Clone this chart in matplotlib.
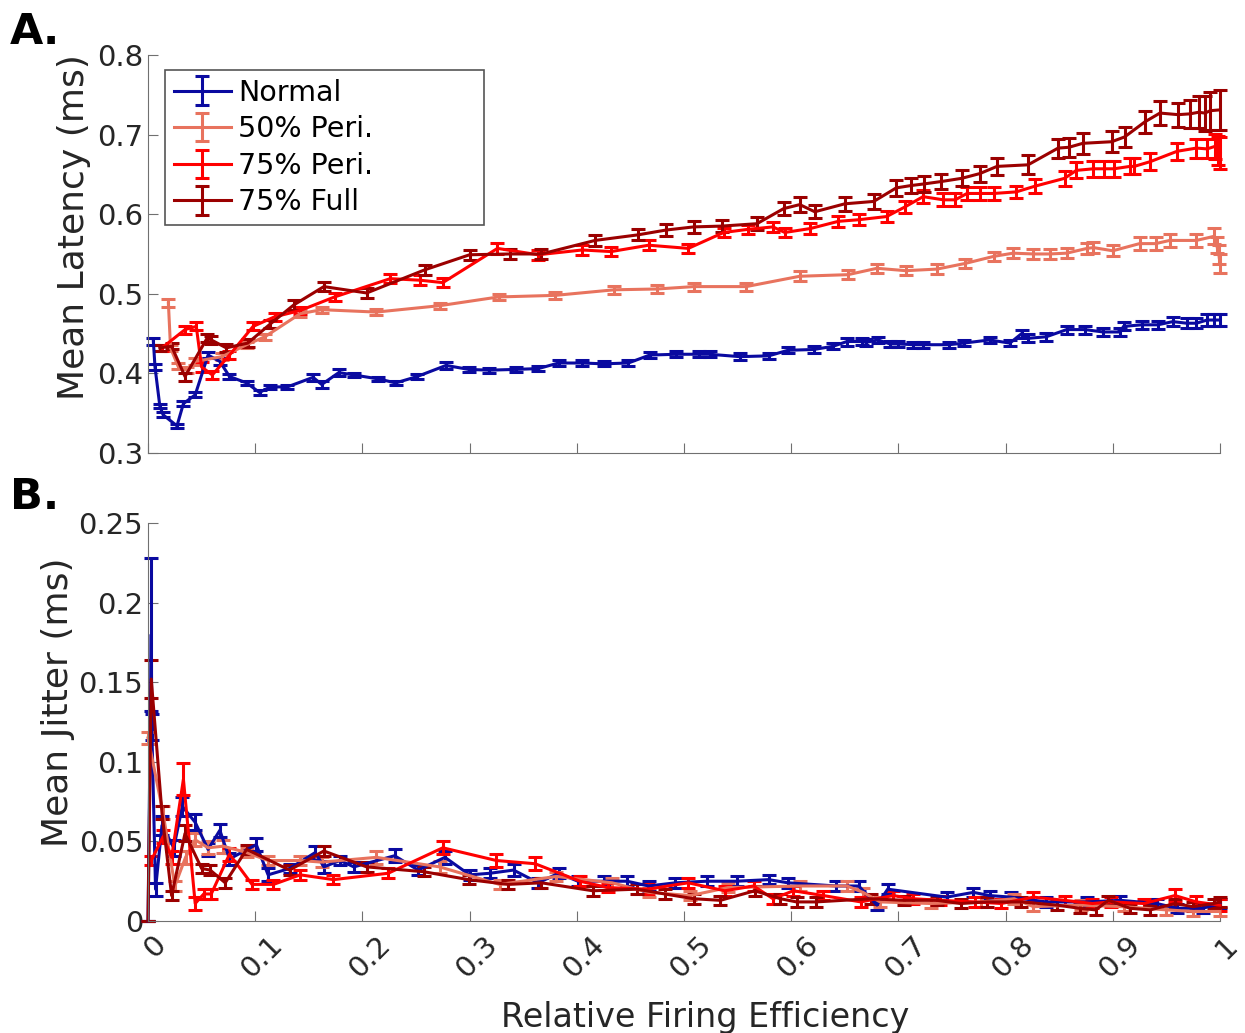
import matplotlib
matplotlib.use('Agg')
import matplotlib.pyplot as plt
import matplotlib.transforms as mtransforms
import numpy as np

plt.rcParams.update({
    'font.family': 'DejaVu Sans',
    'font.size': 21,
    'xtick.direction': 'in',
    'ytick.direction': 'in',
    'xtick.major.size': 7,
    'ytick.major.size': 7,
    'xtick.color': '#707070',
    'ytick.color': '#707070',
    'xtick.labelcolor': '#262626',
    'ytick.labelcolor': '#262626',
    'xtick.labelsize': 21,
    'ytick.labelsize': 21,
    'axes.edgecolor': '#707070',
    'axes.labelcolor': '#262626',
})

labels = ['Normal', '50% Peri.', '75% Peri.', '75% Full']
colors = ['#0A0AA0', '#E8735E', '#FF0000', '#9B0000']

# ---- Panel A: mean latency (ms) ----
lat_normal_x = [0.005, 0.0065, 0.011, 0.014, 0.027, 0.033, 0.044, 0.056, 0.067, 0.076,
                0.092, 0.104, 0.114, 0.130, 0.154, 0.162, 0.178, 0.192, 0.215, 0.231,
                0.251, 0.278, 0.299, 0.318, 0.343, 0.364, 0.383, 0.405, 0.425, 0.448,
                0.468, 0.493, 0.514, 0.524, 0.552, 0.579, 0.597, 0.621, 0.639, 0.652,
                0.666, 0.670, 0.681, 0.692, 0.700, 0.714, 0.723, 0.747, 0.761, 0.785,
                0.804, 0.815, 0.821, 0.838, 0.857, 0.874, 0.891, 0.907, 0.910, 0.927,
                0.942, 0.956, 0.969, 0.978, 0.988, 0.994, 1.0]
lat_normal_y = [0.440, 0.408, 0.359, 0.348, 0.334, 0.362, 0.373, 0.423, 0.415, 0.396,
                0.388, 0.376, 0.383, 0.383, 0.395, 0.386, 0.401, 0.398, 0.393, 0.388,
                0.396, 0.410, 0.405, 0.404, 0.405, 0.406, 0.413, 0.413, 0.412, 0.413,
                0.423, 0.424, 0.424, 0.424, 0.421, 0.422, 0.429, 0.430, 0.434, 0.440,
                0.440, 0.439, 0.442, 0.437, 0.437, 0.436, 0.436, 0.436, 0.438, 0.442,
                0.438, 0.450, 0.444, 0.446, 0.455, 0.455, 0.452, 0.452, 0.459, 0.461,
                0.461, 0.465, 0.463, 0.463, 0.467, 0.467, 0.467]
lat_normal_err = [0.004, 0.004, 0.003, 0.003, 0.003, 0.003, 0.003, 0.004, 0.004, 0.003,
                  0.003, 0.003, 0.003, 0.003, 0.004, 0.004, 0.004, 0.003, 0.003, 0.003,
                  0.003, 0.004, 0.003, 0.003, 0.003, 0.003, 0.004, 0.004, 0.003, 0.004,
                  0.004, 0.004, 0.004, 0.004, 0.004, 0.004, 0.004, 0.004, 0.004, 0.005,
                  0.004, 0.004, 0.004, 0.004, 0.004, 0.004, 0.004, 0.004, 0.004, 0.004,
                  0.004, 0.005, 0.005, 0.005, 0.005, 0.005, 0.005, 0.005, 0.005, 0.005,
                  0.005, 0.006, 0.006, 0.006, 0.007, 0.007, 0.007]

lat_p50_x = [0.019, 0.021, 0.028, 0.036, 0.044, 0.069, 0.092, 0.109, 0.142, 0.162,
             0.213, 0.272, 0.327, 0.380, 0.435, 0.475, 0.509, 0.558, 0.608, 0.653,
             0.680, 0.707, 0.736, 0.762, 0.789, 0.807, 0.826, 0.841, 0.857, 0.876,
             0.882, 0.900, 0.925, 0.940, 0.953, 0.978, 0.994, 0.997, 0.999, 1.0]
lat_p50_y = [0.488, 0.432, 0.409, 0.404, 0.415, 0.421, 0.436, 0.446, 0.475, 0.480,
             0.477, 0.485, 0.496, 0.498, 0.505, 0.506, 0.509, 0.509, 0.522, 0.524,
             0.532, 0.529, 0.531, 0.538, 0.547, 0.551, 0.550, 0.550, 0.551, 0.557,
             0.558, 0.554, 0.563, 0.563, 0.567, 0.567, 0.572, 0.561, 0.549, 0.538]
lat_p50_err = [0.005, 0.004, 0.004, 0.004, 0.004, 0.004, 0.004, 0.004, 0.004, 0.004,
               0.004, 0.004, 0.004, 0.004, 0.005, 0.005, 0.005, 0.005, 0.006, 0.006,
               0.006, 0.006, 0.006, 0.006, 0.006, 0.006, 0.006, 0.006, 0.006, 0.007,
               0.007, 0.007, 0.008, 0.008, 0.008, 0.008, 0.010, 0.010, 0.012, 0.012]

lat_p75_x = [0.013, 0.0345, 0.045, 0.050, 0.060, 0.076, 0.098, 0.118, 0.142, 0.174,
             0.226, 0.254, 0.275, 0.326, 0.364, 0.405, 0.432, 0.467, 0.504, 0.537,
             0.560, 0.583, 0.594, 0.618, 0.644, 0.663, 0.689, 0.706, 0.723, 0.742,
             0.753, 0.764, 0.776, 0.789, 0.810, 0.827, 0.855, 0.866, 0.882, 0.892,
             0.901, 0.916, 0.920, 0.935, 0.960, 0.978, 0.988, 0.995, 0.998, 1.0]
lat_p75_y = [0.432, 0.455, 0.459, 0.408, 0.398, 0.423, 0.459, 0.471, 0.479, 0.496,
             0.519, 0.517, 0.514, 0.557, 0.549, 0.555, 0.553, 0.561, 0.557, 0.577,
             0.581, 0.584, 0.577, 0.582, 0.591, 0.593, 0.597, 0.609, 0.622, 0.618,
             0.618, 0.626, 0.626, 0.626, 0.628, 0.635, 0.645, 0.655, 0.657, 0.657,
             0.657, 0.660, 0.660, 0.666, 0.679, 0.683, 0.682, 0.685, 0.680, 0.677]
lat_p75_err = [0.004, 0.005, 0.005, 0.006, 0.005, 0.005, 0.005, 0.005, 0.005, 0.005,
               0.006, 0.006, 0.006, 0.007, 0.006, 0.006, 0.006, 0.006, 0.006, 0.006,
               0.006, 0.006, 0.006, 0.007, 0.007, 0.007, 0.007, 0.008, 0.008, 0.008,
               0.008, 0.008, 0.008, 0.008, 0.008, 0.009, 0.009, 0.010, 0.010, 0.010,
               0.010, 0.010, 0.010, 0.011, 0.011, 0.012, 0.012, 0.016, 0.018, 0.020]

lat_full_x = [0.011, 0.022, 0.0345, 0.055, 0.059, 0.073, 0.093, 0.114, 0.136, 0.164,
              0.204, 0.258, 0.300, 0.338, 0.367, 0.417, 0.457, 0.483, 0.509, 0.535,
              0.568, 0.593, 0.608, 0.622, 0.650, 0.677, 0.698, 0.712, 0.724, 0.740,
              0.759, 0.776, 0.792, 0.821, 0.849, 0.859, 0.872, 0.899, 0.911, 0.930,
              0.944, 0.961, 0.972, 0.980, 0.986, 0.991, 1.0]
lat_full_y = [0.432, 0.434, 0.396, 0.444, 0.442, 0.432, 0.438, 0.462, 0.486, 0.509,
              0.501, 0.530, 0.549, 0.550, 0.550, 0.567, 0.574, 0.580, 0.584, 0.585,
              0.588, 0.607, 0.612, 0.603, 0.613, 0.616, 0.633, 0.636, 0.638, 0.641,
              0.645, 0.651, 0.660, 0.662, 0.683, 0.684, 0.689, 0.691, 0.697, 0.716,
              0.727, 0.725, 0.726, 0.728, 0.727, 0.730, 0.731]
lat_full_err = [0.004, 0.004, 0.005, 0.005, 0.005, 0.005, 0.005, 0.005, 0.006, 0.006,
                0.006, 0.006, 0.006, 0.006, 0.006, 0.007, 0.007, 0.008, 0.008, 0.008,
                0.008, 0.008, 0.009, 0.008, 0.009, 0.009, 0.010, 0.010, 0.010, 0.010,
                0.010, 0.010, 0.011, 0.012, 0.012, 0.012, 0.013, 0.013, 0.013, 0.014,
                0.015, 0.015, 0.018, 0.020, 0.022, 0.024, 0.025]

# ---- Panel B: mean jitter (ms) ----
jit_normal_x = [0.0, 0.003, 0.0035, 0.007, 0.013, 0.024, 0.032, 0.044, 0.056, 0.067,
                0.076, 0.101, 0.112, 0.132, 0.156, 0.164, 0.179, 0.192, 0.230, 0.252,
                0.277, 0.300, 0.319, 0.341, 0.364, 0.383, 0.401, 0.425, 0.447, 0.467,
                0.492, 0.521, 0.549, 0.579, 0.597, 0.642, 0.663, 0.680, 0.690, 0.745,
                0.770, 0.785, 0.805, 0.838, 0.876, 0.907, 0.941, 0.960, 0.984, 1.0]
jit_normal_y = [0.0, 0.180, 0.122, 0.020, 0.060, 0.046, 0.072, 0.062, 0.045, 0.057,
                0.039, 0.048, 0.029, 0.033, 0.043, 0.034, 0.038, 0.034, 0.041, 0.032,
                0.040, 0.029, 0.030, 0.032, 0.024, 0.030, 0.025, 0.025, 0.025, 0.022,
                0.024, 0.025, 0.025, 0.026, 0.024, 0.022, 0.022, 0.010, 0.020, 0.015,
                0.018, 0.016, 0.015, 0.012, 0.012, 0.013, 0.011, 0.008, 0.008, 0.011]
jit_normal_err = [0.0, 0.048, 0.008, 0.004, 0.006, 0.005, 0.006, 0.005, 0.004, 0.004,
                  0.004, 0.004, 0.004, 0.003, 0.004, 0.004, 0.003, 0.003, 0.004, 0.003,
                  0.004, 0.003, 0.003, 0.004, 0.003, 0.003, 0.003, 0.003, 0.003, 0.003,
                  0.003, 0.003, 0.003, 0.003, 0.003, 0.003, 0.003, 0.003, 0.003, 0.003,
                  0.003, 0.003, 0.003, 0.003, 0.003, 0.003, 0.003, 0.003, 0.003, 0.003]

jit_p50_x = [0.0, 0.014, 0.025, 0.035, 0.044, 0.056, 0.070, 0.092, 0.112, 0.142,
             0.162, 0.213, 0.272, 0.328, 0.381, 0.433, 0.467, 0.506, 0.541, 0.608,
             0.652, 0.667, 0.683, 0.730, 0.777, 0.808, 0.826, 0.870, 0.910, 0.950,
             0.975, 1.0]
jit_p50_y = [0.115, 0.068, 0.022, 0.040, 0.051, 0.046, 0.047, 0.043, 0.038, 0.038,
             0.037, 0.040, 0.034, 0.023, 0.028, 0.024, 0.018, 0.016, 0.021, 0.022,
             0.022, 0.018, 0.012, 0.011, 0.012, 0.014, 0.009, 0.010, 0.009, 0.007,
             0.006, 0.006]
jit_p50_err = [0.004, 0.004, 0.003, 0.004, 0.004, 0.004, 0.004, 0.003, 0.003, 0.003,
               0.003, 0.004, 0.004, 0.003, 0.003, 0.003, 0.003, 0.003, 0.003, 0.003,
               0.003, 0.003, 0.003, 0.003, 0.003, 0.003, 0.003, 0.003, 0.003, 0.003,
               0.003, 0.003]

jit_p75_x = [0.003, 0.014, 0.022, 0.033, 0.044, 0.052, 0.059, 0.076, 0.097, 0.117,
             0.142, 0.173, 0.224, 0.275, 0.325, 0.361, 0.403, 0.429, 0.466, 0.504,
             0.538, 0.565, 0.583, 0.602, 0.630, 0.665, 0.695, 0.714, 0.739, 0.771,
             0.796, 0.826, 0.855, 0.881, 0.898, 0.929, 0.958, 0.978, 1.0]
jit_p75_y = [0.038, 0.053, 0.040, 0.089, 0.011, 0.017, 0.017, 0.042, 0.023, 0.023,
             0.029, 0.026, 0.030, 0.046, 0.038, 0.036, 0.025, 0.021, 0.020, 0.024,
             0.019, 0.022, 0.014, 0.019, 0.016, 0.012, 0.016, 0.014, 0.013, 0.012,
             0.011, 0.015, 0.013, 0.011, 0.012, 0.011, 0.016, 0.012, 0.010]
jit_p75_err = [0.003, 0.004, 0.004, 0.010, 0.004, 0.003, 0.003, 0.004, 0.003, 0.003,
               0.003, 0.003, 0.003, 0.004, 0.004, 0.004, 0.003, 0.003, 0.003, 0.003,
               0.003, 0.003, 0.003, 0.003, 0.003, 0.003, 0.003, 0.003, 0.003, 0.003,
               0.003, 0.003, 0.003, 0.003, 0.003, 0.003, 0.004, 0.004, 0.004]

jit_full_x = [0.0, 0.003, 0.013, 0.022, 0.0345, 0.050, 0.058, 0.072, 0.092, 0.132,
              0.164, 0.204, 0.257, 0.299, 0.336, 0.367, 0.415, 0.456, 0.482, 0.509,
              0.534, 0.566, 0.590, 0.605, 0.623, 0.674, 0.705, 0.736, 0.758, 0.783,
              0.814, 0.848, 0.869, 0.884, 0.896, 0.916, 0.935, 0.958, 0.975, 0.994,
              1.0]
jit_full_y = [0.0, 0.152, 0.068, 0.016, 0.055, 0.033, 0.032, 0.024, 0.045, 0.032,
              0.044, 0.034, 0.031, 0.026, 0.023, 0.024, 0.019, 0.020, 0.017, 0.014,
              0.013, 0.019, 0.014, 0.012, 0.012, 0.014, 0.013, 0.013, 0.011, 0.012,
              0.012, 0.010, 0.008, 0.007, 0.013, 0.008, 0.007, 0.011, 0.009, 0.011,
              0.012]
jit_full_err = [0.0, 0.012, 0.004, 0.003, 0.005, 0.003, 0.003, 0.003, 0.003, 0.003,
                0.003, 0.003, 0.003, 0.003, 0.003, 0.003, 0.003, 0.003, 0.003, 0.003,
                0.003, 0.003, 0.003, 0.003, 0.003, 0.003, 0.003, 0.003, 0.003, 0.003,
                0.003, 0.003, 0.003, 0.003, 0.003, 0.003, 0.003, 0.003, 0.003, 0.003,
                0.003]

xticks = [0, 0.1, 0.2, 0.3, 0.4, 0.5, 0.6, 0.7, 0.8, 0.9, 1]
xticklabels = ['0', '0.1', '0.2', '0.3', '0.4', '0.5', '0.6', '0.7', '0.8', '0.9', '1']
lat_ticks = [0.3, 0.4, 0.5, 0.6, 0.7, 0.8]
jit_ticks = [0, 0.05, 0.1, 0.15, 0.2, 0.25]
jit_ticklabels = ['0', '0.05', '0.1', '0.15', '0.2', '0.25']

lat_series = [(lat_normal_x, lat_normal_y, lat_normal_err),
              (lat_p50_x, lat_p50_y, lat_p50_err),
              (lat_p75_x, lat_p75_y, lat_p75_err),
              (lat_full_x, lat_full_y, lat_full_err)]
jit_series = [(jit_normal_x, jit_normal_y, jit_normal_err),
              (jit_p50_x, jit_p50_y, jit_p50_err),
              (jit_p75_x, jit_p75_y, jit_p75_err),
              (jit_full_x, jit_full_y, jit_full_err)]

fig = plt.figure(figsize=(12.45, 10.33), dpi=100)
ax_a = fig.add_axes([0.1189, 0.5615, 0.861, 0.3853])
ax_b = fig.add_axes([0.1189, 0.1084, 0.861, 0.3853])

for ax, series in ((ax_a, lat_series), (ax_b, jit_series)):
    for (x, y, e), c, lab in zip(series, colors, labels):
        ax.errorbar(x, y, yerr=e, color=c, lw=2.2, elinewidth=2.2, capsize=5,
                    capthick=2.2, label=lab, clip_on=False)
    ax.spines['top'].set_visible(False)
    ax.spines['right'].set_visible(False)
    ax.set_xlim(0, 1)
    ax.set_xticks(xticks)

ax_a.set_ylim(0.3, 0.8)
ax_a.set_yticks(lat_ticks)
ax_a.set_xticklabels([])
ax_a.set_ylabel('Mean Latency (ms)', fontsize=26)
ax_a.yaxis.set_label_coords(-0.053, 0.568)

leg = ax_a.legend(loc='upper left', bbox_to_anchor=(0.016, 0.58, 0.297, 0.382),
                  mode='expand', fancybox=False, edgecolor='#555555',
                  framealpha=1, fontsize=20.5, handlelength=2.0, handletextpad=0.25,
                  labelspacing=0.3, borderpad=0.3, borderaxespad=0)
leg.get_frame().set_linewidth(1.2)

ax_b.set_ylim(0, 0.25)
ax_b.set_yticks(jit_ticks)
ax_b.set_yticklabels(jit_ticklabels)
ax_b.set_xticklabels(xticklabels, rotation=45, ha='center', va='top')
# rotated labels sit a little right of and below their ticks
shift = mtransforms.ScaledTranslation(7 / 100, -5 / 100, fig.dpi_scale_trans)
for lbl in ax_b.get_xticklabels():
    lbl.set_transform(lbl.get_transform() + shift)
ax_b.set_ylabel('Mean Jitter (ms)', fontsize=26)
ax_b.yaxis.set_label_coords(-0.068, 0.55)
ax_b.set_xlabel('Relative Firing Efficiency', fontsize=24)
ax_b.xaxis.set_label_coords(0.52, -0.2)

fig.text(0.008, 0.957, 'A.', fontsize=31, fontweight='bold')
fig.text(0.008, 0.507, 'B.', fontsize=31, fontweight='bold')

fig.savefig('out.png', dpi=100)
